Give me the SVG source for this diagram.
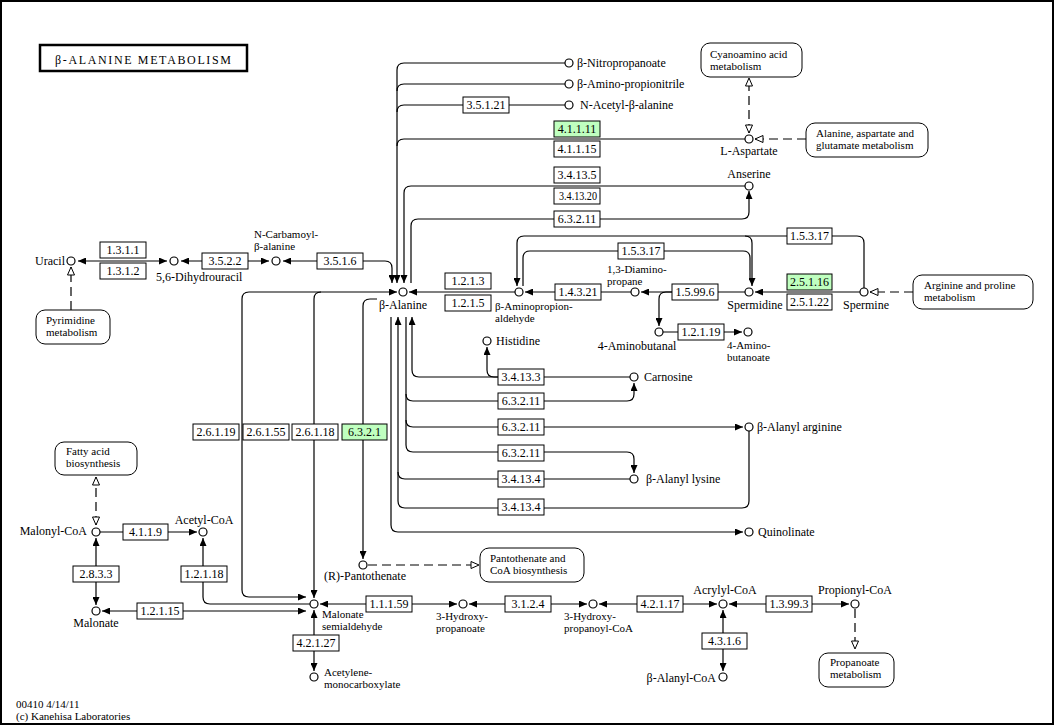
<svg xmlns="http://www.w3.org/2000/svg" width="1056" height="726" viewBox="0 0 1056 726">
<defs>
<style>
text{font-family:"Liberation Serif","Times New Roman",serif;font-size:12px;fill:#000}
text.s{font-size:11px}
.e rect{fill:#fff;stroke:#000;stroke-width:1}
.e.g rect{fill:#bfffbf}
.e text{text-anchor:middle}
.c circle{fill:#fff;stroke:#000;stroke-width:1.2}
.mid{text-anchor:middle}
.end{text-anchor:end}
.m rect{fill:#fff;stroke:#000;stroke-width:1}
#conn path{fill:none;stroke:#000;stroke-width:1.2}
#conn path.d{stroke-dasharray:9,5}
</style>
<marker id="a" viewBox="0 0 8 7" refX="8" refY="3.5" markerWidth="8" markerHeight="7" markerUnits="userSpaceOnUse" orient="auto-start-reverse"><path d="M0,0L8,3.5L0,7z" fill="#000"/></marker>
<marker id="o" viewBox="-1 -1 10 9" refX="8" refY="3.5" markerWidth="10" markerHeight="9" markerUnits="userSpaceOnUse" orient="auto-start-reverse"><path d="M0,0L8,3.5L0,7z" fill="#fff" stroke="#000" stroke-width="1"/></marker>
</defs>
<rect x="0" y="0" width="1056" height="726" fill="#fff"/>
<rect x="1" y="1" width="1052" height="723" fill="none" stroke="#000" stroke-width="2"/>
<g id="title"><rect x="40" y="45" width="207" height="26" fill="#fff" stroke="#000" stroke-width="2.5"/><text x="143" y="64" class="mid" font-size="13" textLength="176" lengthAdjust="spacing">β-ALANINE  METABOLISM</text></g>
<g id="footer"><text class="s" x="16" y="708">00410 4/14/11</text><text class="s" x="16" y="720">(c) Kanehisa Laboratories</text></g>

<g id="conn">
<path d="M78,261H167" marker-start="url(#a)" marker-end="url(#a)"/>
<path d="M181,261H269" marker-start="url(#a)" marker-end="url(#a)"/>
<path d="M283,261H385Q392,261 392,268V283" marker-start="url(#a)" marker-end="url(#a)"/>
<path d="M565,63H404Q397,63 397,70V283" marker-end="url(#a)"/>
<path d="M565,84H404Q397,84 397,91"/>
<path d="M565,105H404Q397,105 397,112"/>
<path d="M745,139H404Q397,139 397,146"/>
<path d="M745,186H411Q404,186 404,193V283" marker-end="url(#a)"/>
<path d="M411,283V226Q411,219 418,219H742Q749,219 749,212V191" marker-end="url(#a)"/>
<path d="M517,286V243Q517,236 524,236H857Q864,236 864,243V288" marker-start="url(#a)"/>
<path d="M745,236Q752,236 752,243V286" marker-end="url(#a)"/>
<path d="M523,286V258Q523,251 530,251H743Q750,251 750,258V278"/>
<path d="M860,292H755" marker-end="url(#a)"/>
<path d="M745,292H641" marker-end="url(#a)"/>
<path d="M672,292H666Q659,292 659,299V326" marker-end="url(#a)"/>
<path d="M631,292H525" marker-end="url(#a)"/>
<path d="M515,292H409" marker-end="url(#a)"/>
<path d="M663,332H742" marker-end="url(#a)"/>
<path d="M397,292H249Q242,292 242,299V590Q242,597 249,597H306" marker-start="url(#a)" marker-end="url(#a)"/>
<path d="M321,292Q314,292 314,299V598" marker-end="url(#a)"/>
<path d="M377,299H370Q363,299 363,306V559" marker-end="url(#a)"/>
<path d="M630,377H419Q412,377 412,370V317" marker-end="url(#a)"/>
<path d="M498,377H494Q487,377 487,370V347" marker-end="url(#a)"/>
<path d="M406,317V445Q406,452 413,452H627Q634,452 634,459V473" marker-end="url(#a)"/>
<path d="M406,394Q406,401 413,401H627Q634,401 634,394V383" marker-end="url(#a)"/>
<path d="M406,420Q406,427 413,427H743" marker-end="url(#a)"/>
<path d="M398,317V501Q398,508 405,508H742Q749,508 749,501V431" marker-start="url(#a)"/>
<path d="M398,472Q398,479 405,479H630"/>
<path d="M391,317V525Q391,532 398,532H743" marker-end="url(#a)"/>
<path d="M100,532H197" marker-end="url(#a)"/>
<path d="M310,604H210Q203,604 203,597V538" marker-end="url(#a)"/>
<path d="M96,538V605" marker-start="url(#a)" marker-end="url(#a)"/>
<path d="M102,611H306" marker-start="url(#a)" marker-end="url(#a)"/>
<path d="M320,604H457" marker-start="url(#a)" marker-end="url(#a)"/>
<path d="M469,604H587" marker-start="url(#a)" marker-end="url(#a)"/>
<path d="M599,604H717" marker-start="url(#a)" marker-end="url(#a)"/>
<path d="M729,604H849" marker-start="url(#a)" marker-end="url(#a)"/>
<path d="M723,610V671" marker-start="url(#a)" marker-end="url(#a)"/>
<path d="M314,610V671" marker-start="url(#a)" marker-end="url(#a)"/>
<path class="d" d="M749,133V78" marker-start="url(#o)" marker-end="url(#o)"/>
<path class="d" d="M806,139H755" marker-end="url(#o)"/>
<path class="d" d="M913,292H870" marker-end="url(#o)"/>
<path class="d" d="M71,310V267" marker-end="url(#o)"/>
<path class="d" d="M368,565H479" marker-end="url(#o)"/>
<path class="d" d="M96,525V477" marker-start="url(#o)" marker-end="url(#o)"/>
<path class="d" d="M855,609V649" marker-end="url(#o)"/>
</g>

<g id="e3_5_1_21" class="e"><rect x="463" y="97" width="46" height="16"/><text x="486" y="109">3.5.1.21</text></g>
<g id="e4_1_1_11" class="e g"><rect x="554" y="121" width="46" height="16"/><text x="577" y="133">4.1.1.11</text></g>
<g id="e4_1_1_15" class="e"><rect x="554" y="141" width="46" height="16"/><text x="577" y="153">4.1.1.15</text></g>
<g id="e3_4_13_5" class="e"><rect x="554" y="167" width="46" height="16"/><text x="577" y="179">3.4.13.5</text></g>
<g id="e3_4_13_20" class="e"><rect x="554" y="188" width="46" height="16"/><text x="578" y="200" textLength="38" lengthAdjust="spacingAndGlyphs">3.4.13.20</text></g>
<g id="e6_3_2_11a" class="e"><rect x="554" y="211" width="46" height="16"/><text x="577" y="223">6.3.2.11</text></g>
<g id="e1_5_3_17a" class="e"><rect x="618" y="243" width="46" height="16"/><text x="641" y="255">1.5.3.17</text></g>
<g id="e1_5_3_17b" class="e"><rect x="787" y="228" width="45" height="16"/><text x="809.5" y="240">1.5.3.17</text></g>
<g id="e2_5_1_16" class="e g"><rect x="787" y="274" width="45" height="16"/><text x="809.5" y="286">2.5.1.16</text></g>
<g id="e2_5_1_22" class="e"><rect x="787" y="294" width="45" height="16"/><text x="809.5" y="306">2.5.1.22</text></g>
<g id="e1_3_1_1" class="e"><rect x="100" y="242" width="46" height="16"/><text x="123" y="254">1.3.1.1</text></g>
<g id="e1_3_1_2" class="e"><rect x="100" y="263" width="46" height="16"/><text x="123" y="275">1.3.1.2</text></g>
<g id="e3_5_2_2" class="e"><rect x="202" y="253" width="46" height="16"/><text x="225" y="265">3.5.2.2</text></g>
<g id="e3_5_1_6" class="e"><rect x="317" y="253" width="46" height="16"/><text x="340" y="265">3.5.1.6</text></g>
<g id="e1_2_1_3" class="e"><rect x="445" y="273" width="46" height="16"/><text x="468" y="285">1.2.1.3</text></g>
<g id="e1_2_1_5" class="e"><rect x="445" y="295" width="46" height="16"/><text x="468" y="307">1.2.1.5</text></g>
<g id="e1_4_3_21" class="e"><rect x="555" y="284" width="46" height="16"/><text x="578" y="296">1.4.3.21</text></g>
<g id="e1_5_99_6" class="e"><rect x="672" y="284" width="46" height="16"/><text x="695" y="296">1.5.99.6</text></g>
<g id="e1_2_1_19" class="e"><rect x="678" y="324" width="46" height="16"/><text x="701" y="336">1.2.1.19</text></g>
<g id="e2_6_1_19" class="e"><rect x="193" y="424" width="46" height="16"/><text x="216" y="436">2.6.1.19</text></g>
<g id="e2_6_1_55" class="e"><rect x="243" y="424" width="46" height="16"/><text x="266" y="436">2.6.1.55</text></g>
<g id="e2_6_1_18" class="e"><rect x="292" y="424" width="46" height="16"/><text x="315" y="436">2.6.1.18</text></g>
<g id="e6_3_2_1" class="e g"><rect x="342" y="424" width="45" height="16"/><text x="364.5" y="436">6.3.2.1</text></g>
<g id="e3_4_13_3" class="e"><rect x="498" y="369" width="46" height="16"/><text x="521" y="381">3.4.13.3</text></g>
<g id="e6_3_2_11b" class="e"><rect x="498" y="393" width="46" height="16"/><text x="521" y="405">6.3.2.11</text></g>
<g id="e6_3_2_11c" class="e"><rect x="498" y="419" width="46" height="16"/><text x="521" y="431">6.3.2.11</text></g>
<g id="e6_3_2_11d" class="e"><rect x="498" y="445" width="46" height="16"/><text x="521" y="457">6.3.2.11</text></g>
<g id="e3_4_13_4a" class="e"><rect x="498" y="471" width="46" height="16"/><text x="521" y="483">3.4.13.4</text></g>
<g id="e3_4_13_4b" class="e"><rect x="498" y="499" width="46" height="16"/><text x="521" y="511">3.4.13.4</text></g>
<g id="e4_1_1_9" class="e"><rect x="123" y="524" width="45" height="16"/><text x="145.5" y="536">4.1.1.9</text></g>
<g id="e2_8_3_3" class="e"><rect x="73" y="566" width="46" height="16"/><text x="96" y="578">2.8.3.3</text></g>
<g id="e1_2_1_18" class="e"><rect x="181" y="566" width="46" height="16"/><text x="204" y="578">1.2.1.18</text></g>
<g id="e1_2_1_15" class="e"><rect x="137" y="603" width="46" height="16"/><text x="160" y="615">1.2.1.15</text></g>
<g id="e1_1_1_59" class="e"><rect x="366" y="596" width="46" height="16"/><text x="389" y="608">1.1.1.59</text></g>
<g id="e3_1_2_4" class="e"><rect x="505" y="596" width="46" height="16"/><text x="528" y="608">3.1.2.4</text></g>
<g id="e4_2_1_17" class="e"><rect x="637" y="596" width="46" height="16"/><text x="660" y="608">4.2.1.17</text></g>
<g id="e1_3_99_3" class="e"><rect x="766" y="596" width="46" height="16"/><text x="789" y="608">1.3.99.3</text></g>
<g id="e4_2_1_27" class="e"><rect x="293" y="635" width="46" height="16"/><text x="316" y="647">4.2.1.27</text></g>
<g id="e4_3_1_6" class="e"><rect x="702" y="633" width="45" height="16"/><text x="724.5" y="645">4.3.1.6</text></g>

<g id="c_nitropropanoate" class="c"><circle cx="569" cy="63" r="4"/><text x="577" y="67">β-Nitropropanoate</text></g>
<g id="c_aminopropionitrile" class="c"><circle cx="569" cy="84" r="4"/><text x="577" y="88">β-Amino-propionitrile</text></g>
<g id="c_acetylbalanine" class="c"><circle cx="569" cy="105" r="4"/><text x="580" y="109">N-Acetyl-β-alanine</text></g>
<g id="c_aspartate" class="c"><circle cx="749" cy="139" r="4"/><text x="749" y="155" class="mid">L-Aspartate</text></g>
<g id="c_anserine" class="c"><circle cx="749" cy="186" r="4"/><text x="749" y="178" class="mid">Anserine</text></g>
<g id="c_spermidine" class="c"><circle cx="749" cy="292" r="4"/><text x="755" y="309" class="mid">Spermidine</text></g>
<g id="c_spermine" class="c"><circle cx="864" cy="292" r="4"/><text x="866" y="309" class="mid">Spermine</text></g>
<g id="c_diaminopropane" class="c"><circle cx="635" cy="292" r="4"/><text class="s" x="607" y="273">1,3-Diamino-</text><text class="s" x="607" y="285">propane</text></g>
<g id="c_aminopropionaldehyde" class="c"><circle cx="519" cy="292" r="4"/><text class="s" x="495" y="310">β-Aminopropion-</text><text class="s" x="495" y="322">aldehyde</text></g>
<g id="c_balanine" class="c"><circle cx="403" cy="292" r="4"/><text x="403" y="309" class="mid">β-Alanine</text></g>
<g id="c_aminobutanal" class="c"><circle cx="659" cy="332" r="4"/><text x="637" y="350" class="mid">4-Aminobutanal</text></g>
<g id="c_aminobutanoate" class="c"><circle cx="748" cy="332" r="4"/><text class="s" x="727" y="349">4-Amino-</text><text class="s" x="727" y="361">butanoate</text></g>
<g id="c_uracil" class="c"><circle cx="71" cy="261" r="4"/><text x="65" y="265" class="end">Uracil</text></g>
<g id="c_dihydrouracil" class="c"><circle cx="174" cy="261" r="4"/><text x="156" y="281">5,6-Dihydrouracil</text></g>
<g id="c_carbamoyl" class="c"><circle cx="276" cy="261" r="4"/><text class="s" x="254" y="238">N-Carbamoyl-</text><text class="s" x="254" y="250">β-alanine</text></g>
<g id="c_histidine" class="c"><circle cx="487" cy="341" r="4"/><text x="496" y="345">Histidine</text></g>
<g id="c_carnosine" class="c"><circle cx="634" cy="377" r="4"/><text x="644" y="381">Carnosine</text></g>
<g id="c_alanylarginine" class="c"><circle cx="749" cy="427" r="4"/><text x="757" y="431">β-Alanyl arginine</text></g>
<g id="c_alanyllysine" class="c"><circle cx="634" cy="479" r="4"/><text x="646" y="483">β-Alanyl lysine</text></g>
<g id="c_quinolinate" class="c"><circle cx="749" cy="532" r="4"/><text x="758" y="536">Quinolinate</text></g>
<g id="c_pantothenate" class="c"><circle cx="363" cy="565" r="4"/><text x="365" y="580" class="mid">(R)-Pantothenate</text></g>
<g id="c_malonylcoa" class="c"><circle cx="96" cy="532" r="4"/><text x="87" y="535" class="end">Malonyl-CoA</text></g>
<g id="c_acetylcoa" class="c"><circle cx="203" cy="532" r="4"/><text x="204" y="524" class="mid">Acetyl-CoA</text></g>
<g id="c_malonate" class="c"><circle cx="96" cy="611" r="4"/><text x="96" y="627" class="mid">Malonate</text></g>
<g id="c_malonatesemi" class="c"><circle cx="314" cy="604" r="4"/><text class="s" x="322" y="618">Malonate</text><text class="s" x="322" y="630">semialdehyde</text></g>
<g id="c_acetylene" class="c"><circle cx="314" cy="677" r="4"/><text class="s" x="324" y="676">Acetylene-</text><text class="s" x="324" y="688">monocarboxylate</text></g>
<g id="c_hydroxypropanoate" class="c"><circle cx="463" cy="604" r="4"/><text class="s" x="436" y="620">3-Hydroxy-</text><text class="s" x="436" y="632">propanoate</text></g>
<g id="c_hydroxypropanoylcoa" class="c"><circle cx="593" cy="604" r="4"/><text class="s" x="564" y="620">3-Hydroxy-</text><text class="s" x="564" y="632">propanoyl-CoA</text></g>
<g id="c_acrylylcoa" class="c"><circle cx="723" cy="604" r="4"/><text x="725" y="594" class="mid">Acrylyl-CoA</text></g>
<g id="c_propionylcoa" class="c"><circle cx="855" cy="604" r="4"/><text x="855" y="594" class="mid">Propionyl-CoA</text></g>
<g id="c_alanylcoa" class="c"><circle cx="723" cy="677" r="4"/><text x="716" y="682" class="end">β-Alanyl-CoA</text></g>

<g id="m_cyanoamino" class="m"><rect x="701" y="43" width="101" height="34" rx="9"/><text class="s" x="710" y="58">Cyanoamino acid</text><text class="s" x="710" y="70">metabolism</text></g>
<g id="m_alanine" class="m"><rect x="806" y="123" width="122" height="34" rx="9"/><text class="s" x="816" y="137">Alanine, aspartate and</text><text class="s" x="816" y="149">glutamate metabolism</text></g>
<g id="m_arginine" class="m"><rect x="913" y="275" width="120" height="34" rx="9"/><text class="s" x="924" y="289">Arginine and proline</text><text class="s" x="924" y="301">metabolism</text></g>
<g id="m_pyrimidine" class="m"><rect x="36" y="310" width="74" height="34" rx="9"/><text class="s" x="46" y="324">Pyrimidine</text><text class="s" x="46" y="336">metabolism</text></g>
<g id="m_fattyacid" class="m"><rect x="55" y="442" width="82" height="33" rx="9"/><text class="s" x="66" y="455">Fatty acid</text><text class="s" x="66" y="467">biosynthesis</text></g>
<g id="m_pantothenate" class="m"><rect x="480" y="548" width="104" height="34" rx="9"/><text class="s" x="490" y="562">Pantothenate and</text><text class="s" x="490" y="574">CoA biosynthesis</text></g>
<g id="m_propanoate" class="m"><rect x="819" y="653" width="75" height="34" rx="9"/><text class="s" x="830" y="666">Propanoate</text><text class="s" x="830" y="678">metabolism</text></g>
</svg>
